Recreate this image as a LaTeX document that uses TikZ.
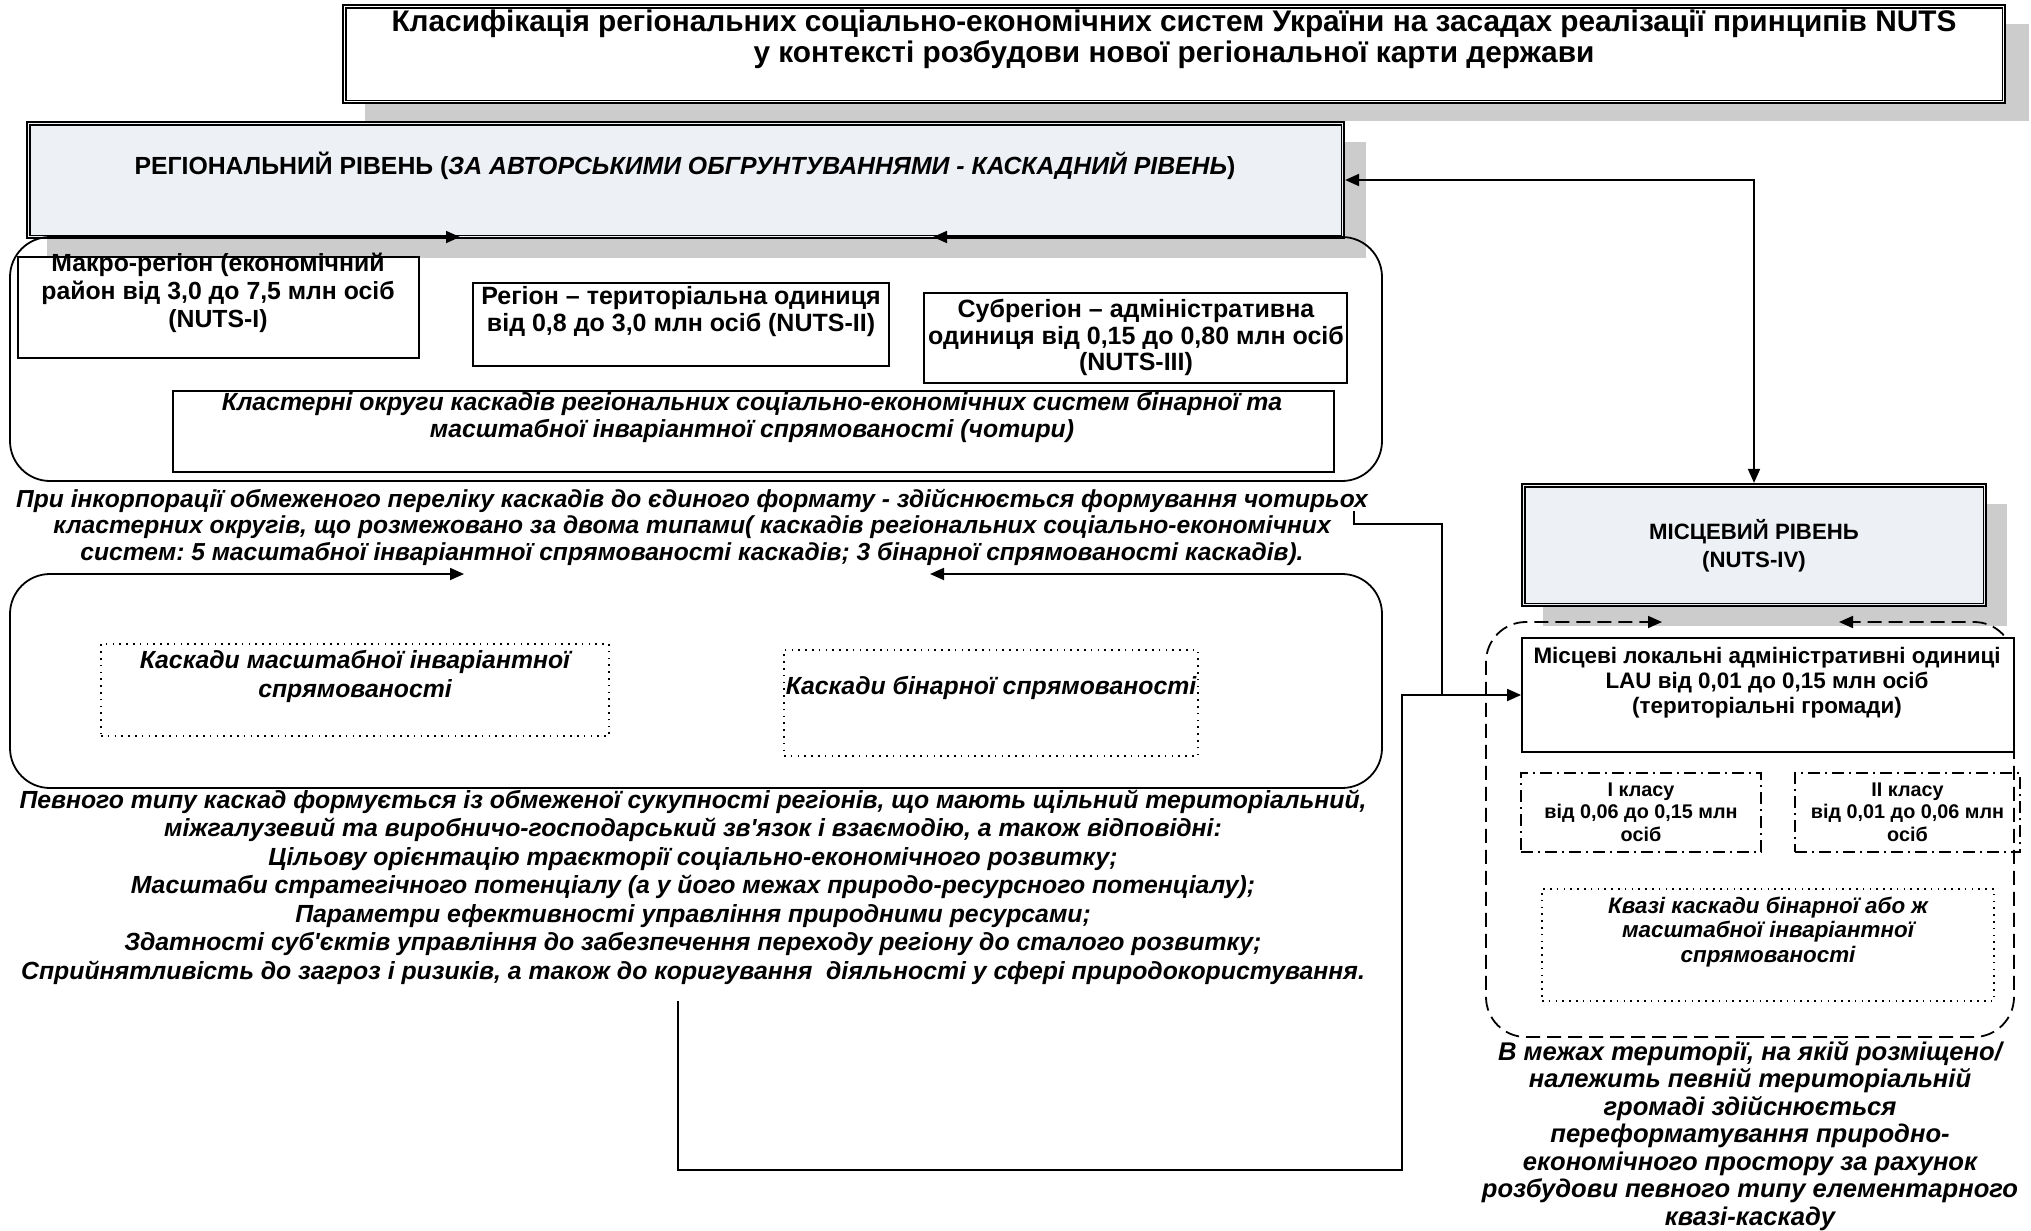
\documentclass[tikz,border=0pt]{standalone}
\usepackage{fontspec}
\setmainfont{Liberation Sans}
\usetikzlibrary{arrows.meta,calc}
\definecolor{hdrfill}{RGB}{237,240,245}
\definecolor{shadowgray}{RGB}{204,204,204}
\frenchspacing
\begin{document}
\begin{tikzpicture}[x=0.5pt,y=-0.5pt,
  shadowbox/.style={fill=shadowgray,draw=none},
  outerbox/.style={draw,line width=1.1pt,inner sep=0pt},
  plainbox/.style={draw,line width=0.9pt,fill=white,inner sep=0pt},
  dotbox/.style={draw,line width=0.7pt,dash pattern=on 0.8pt off 2.6pt,inner sep=0pt},
  dashdotbox/.style={draw,line width=0.8pt,dash pattern=on 6pt off 2.5pt on 1pt off 2.5pt,inner sep=0pt},
  frame/.style={line width=0.9pt,rounded corners=20pt},
  tip/.style={-{Triangle[length=7pt,width=6pt]}},
  bitip/.style={{Triangle[length=7pt,width=6pt]}-{Triangle[length=7pt,width=6pt]}},
  link/.style={line width=0.9pt},
  txt/.style={align=center,inner sep=0pt},
  fTitle/.style={font=\fontsize{14.9}{15.5}\selectfont\bfseries},
  fHead/.style={font=\fontsize{12.4}{13}\selectfont\bfseries},
  fBox/.style={font=\fontsize{12.4}{14}\selectfont\bfseries},
  fPara/.style={font=\fontsize{12.4}{14.25}\selectfont\bfseries\itshape},
  fLoc/.style={font=\fontsize{11.2}{12.5}\selectfont\bfseries},
  fSmall/.style={font=\fontsize{9.9}{11.25}\selectfont\bfseries},
  fLocIt/.style={font=\fontsize{11.2}{12.4}\selectfont\bfseries\itshape},
  fNote/.style={font=\fontsize{12.8}{13.75}\selectfont\bfseries\itshape}
]
\useasboundingbox (0,0) rectangle (2031,1231);

% drop shadows of the three header boxes
\fill[shadowbox] (365,24) rectangle (2029,121);
\fill[shadowbox] (47,142) rectangle (1366,258);
\fill[shadowbox] (1543,504) rectangle (2007,626);

% title box (double border)
\node[outerbox,fill=white,minimum width=831pt,minimum height=49pt] (title) at (1174,54) {};
\draw[line width=0.6pt] ($(title.north west)+(4,4)$) rectangle ($(title.south east)+(-4,-4)$);
\node[txt,fTitle] (titletext) at (1174,39.5)
  {Класифікація регіональних соціально-економічних систем України на засадах реалізації принципів NUTS\\
   у контексті розбудови нової регіональної карти держави};

% regional level header
\node[outerbox,fill=hdrfill,minimum width=658.5pt,minimum height=58pt] (reg) at (685.5,180) {};
\draw[line width=0.6pt] ($(reg.north west)+(4,4)$) rectangle ($(reg.south east)+(-4,-4)$);
\node[txt,fHead] (regtext) at (685,166)
  {РЕГІОНАЛЬНИЙ РІВЕНЬ (\textit{ЗА АВТОРСЬКИМИ ОБГРУНТУВАННЯМИ - КАСКАДНИЙ РІВЕНЬ})};

% local level header
\node[outerbox,fill=hdrfill,minimum width=232pt,minimum height=61pt] (mis) at (1754,545) {};
\draw[line width=0.6pt] ($(mis.north west)+(4,4)$) rectangle ($(mis.south east)+(-4,-4)$);
\node[txt,font=\fontsize{11.1}{14}\selectfont\bfseries] (mistext) at (1754,546)
  {МІСЦЕВИЙ РІВЕНЬ\\(NUTS-IV)};

% first rounded frame with inward arrows on top
\coordinate (f1l) at (460,237);
\coordinate (f1r) at (933,237);
\draw[frame,tip] (696,481) -- (10,481) -- (10,237) -- (f1l);
\draw[frame,tip] (696,481) -- (1382,481) -- (1382,237) -- (f1r);

% NUTS units
\node[plainbox,minimum width=200.5pt,minimum height=50.5pt] (mak) at (218.5,307.5) {};
\node[txt,fBox] (maktext) at (218,293)
  {Макро-регіон (економічний\\район від 3,0 до 7,5 млн осіб\\(NUTS-I)};
\node[plainbox,minimum width=208pt,minimum height=41.5pt] (rgn) at (681,324.5) {};
\node[txt,font=\fontsize{12.5}{13.5}\selectfont\bfseries] (rgntext) at (681,311.5)
  {Регіон – територіальна одиниця\\від 0,8 до 3,0 млн осіб (NUTS-II)};
\node[plainbox,minimum width=211.5pt,minimum height=45pt] (sub) at (1135.5,338) {};
\node[txt,font=\fontsize{12.5}{13.25}\selectfont\bfseries] (subtext) at (1136,337.5)
  {Субрегіон – адміністративна\\одиниця від 0,15 до 0,80 млн осіб\\(NUTS-III)};
\node[plainbox,minimum width=580.5pt,minimum height=40.5pt] (clu) at (753.5,431.5) {};
\node[txt,font=\fontsize{12.4}{13.5}\selectfont\bfseries\itshape] (clutext) at (752,417.5)
  {Кластерні округи каскадів регіональних соціально-економічних систем бінарної та\\
   масштабної інваріантної спрямованості (чотири)};

% explanatory paragraph
\node[txt,font=\fontsize{12.3}{13.25}\selectfont\bfseries\itshape] (para1) at (692,527)
  {При інкорпорації обмеженого переліку каскадів до єдиного формату - здійснюється формування чотирьох\\
   кластерних округів, що розмежовано за двома типами( каскадів регіональних соціально-економічних\\
   систем: 5 масштабної інваріантної спрямованості каскадів; 3 бінарної спрямованості каскадів).};

% second rounded frame
\coordinate (f2l) at (464,574);
\coordinate (f2r) at (930,574);
\draw[frame,tip] (696,788) -- (10,788) -- (10,574) -- (f2l);
\draw[frame,tip] (696,788) -- (1382,788) -- (1382,574) -- (f2r);

\node[dotbox,minimum width=254pt,minimum height=46pt] (cas1) at (355,690) {};
\node[txt,fPara] (cas1text) at (355,676.5)
  {Каскади масштабної інваріантної\\спрямованості};
\node[dotbox,minimum width=207pt,minimum height=53pt] (cas2) at (991,703) {};
\node[txt,fPara] (cas2text) at (991,688)
  {Каскади бінарної спрямованості};

% second paragraph
\node[txt,fPara] (para2) at (693,887)
  {Певного типу каскад формується із обмеженої сукупності регіонів, що мають щільний територіальний,\\
   міжгалузевий та виробничо-господарський зв\textquotesingle язок і взаємодію, а також відповідні:\\
   Цільову орієнтацію траєкторії соціально-економічного розвитку;\\
   Масштаби стратегічного потенціалу (а у його межах природо-ресурсного потенціалу);\\
   Параметри ефективності управління природними ресурсами;\\
   Здатності суб\textquotesingle єктів управління до забезпечення переходу регіону до сталого розвитку;\\
   Сприйнятливість до загроз і ризиків, а також до коригування\ \ діяльності у сфері природокористування.};

% dashed frame of the local level
\coordinate (f3l) at (1662,622);
\coordinate (f3r) at (1839,622);
\draw[frame,dash pattern=on 7pt off 3.5pt,tip] (1750,1037) -- (1486,1037) -- (1486,622) -- (f3l);
\draw[frame,dash pattern=on 7pt off 3.5pt,tip] (1750,1037) -- (2014,1037) -- (2014,622) -- (f3r);

\node[plainbox,minimum width=246pt,minimum height=57pt] (lau) at (1768,695) {};
\node[txt,fLoc] (lautext) at (1767,683)
  {Місцеві локальні адміністративні одиниці\\LAU від 0,01 до 0,15 млн осіб\\(територіальні громади)};
\node[dashdotbox,minimum width=120pt,minimum height=39.5pt] (cl1) at (1641,812.5) {};
\node[txt,fSmall] (cl1text) at (1641,812)
  {I класу\\від 0,06 до 0,15 млн\\осіб};
\node[dashdotbox,minimum width=112.5pt,minimum height=39.5pt] (cl2) at (1907.5,812.5) {};
\node[txt,fSmall] (cl2text) at (1907.5,812)
  {II класу\\від 0,01 до 0,06 млн\\осіб};
\node[dotbox,minimum width=226pt,minimum height=56pt] (kva) at (1768,945) {};
\node[txt,fLocIt] (kvatext) at (1768,932)
  {Квазі каскади бінарної або ж\\масштабної інваріантної\\спрямованості};

\node[txt,fNote] (note) at (1750,1136)
  {В межах території, на якій розміщено/\\
   належить певній територіальній\\
   громаді здійснюється\\
   переформатування природно-\\
   економічного простору за рахунок\\
   розбудови певного типу елементарного\\
   квазі-каскаду};

% connectors
\draw[link,bitip] (reg.east) -| (mis.north);
\coordinate (p1out) at (1354,511);
\coordinate (p2out) at (678,1001);
\coordinate (join) at (1442,695);
\draw[link] (p1out) |- (1442,524) -- (join);
\draw[link,tip] (p2out) |- (1402,1170) |- (lau.west);
\end{tikzpicture}
\end{document}
